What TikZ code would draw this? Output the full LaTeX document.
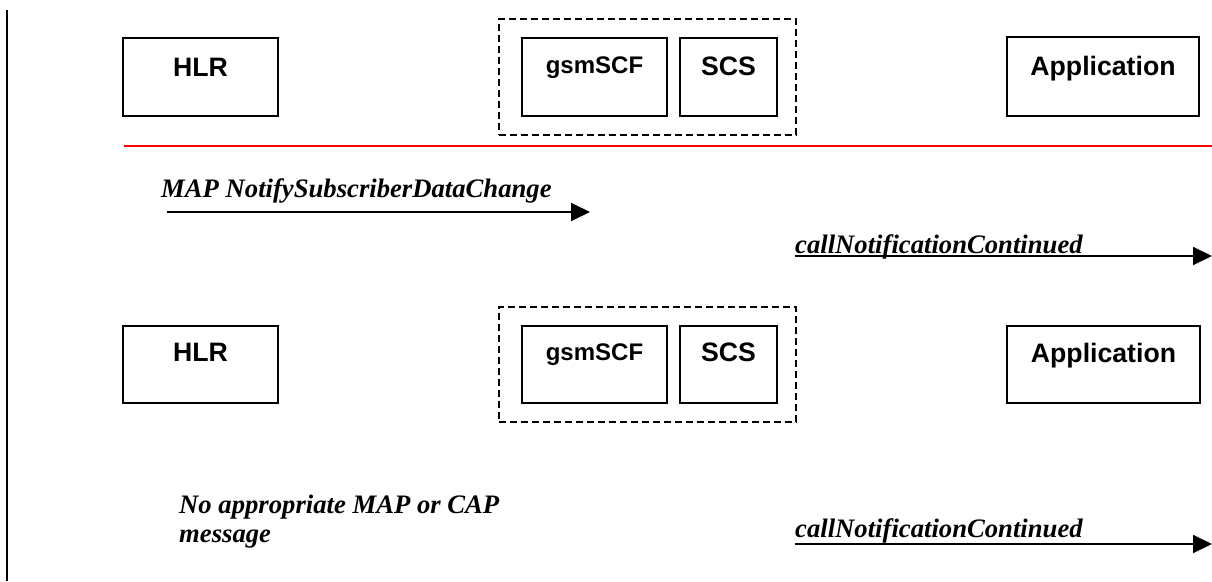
\documentclass[tikz,border=0pt]{standalone}
\usepackage{fontspec}
\setmainfont{Liberation Serif}
\newfontfamily\arialfont{Liberation Sans}
\usetikzlibrary{arrows.meta}
\begin{document}
\begin{tikzpicture}[x=1pt,y=-1pt,
  ent/.style={draw=black,line width=1.9pt,anchor=north west,inner sep=0pt,outer sep=0pt},
  entlabel/.style={anchor=base,inner sep=0pt,font=\arialfont\bfseries\fontsize{26.67}{30}\selectfont},
  smalllabel/.style={anchor=base,inner sep=0pt,font=\arialfont\bfseries\fontsize{24}{28}\selectfont},
  grp/.style={draw=black,line width=1.9pt,dash pattern=on 7pt off 4pt,anchor=north west,inner sep=0pt,outer sep=0pt},
  msg/.style={anchor=base west,inner sep=0pt,font=\bfseries\itshape\fontsize{26.67}{29}\selectfont},
  msgarrow/.style={line width=1.9pt,-{Triangle[length=19pt,width=18pt]}},
  sep/.style={draw=red,line width=2pt}
]
\useasboundingbox (0,0) rectangle (1212,581);

% left vertical bar
\coordinate (barTop) at (7,10);
\coordinate (barBot) at (7,581);
\draw[line width=2pt] (barTop) -- (barBot);

% ---------- Row 1 ----------
\node[grp, minimum width=297pt, minimum height=116pt] (grpA) at (499,19) {};
\node[ent, minimum width=155pt, minimum height=78pt] (hlrA) at (123,38) {};
\node[ent, minimum width=145pt, minimum height=78pt] (scfA) at (522,38) {};
\node[ent, minimum width=97pt, minimum height=78pt] (scsA) at (680,38) {};
\node[ent, minimum width=192pt, minimum height=79pt] (appA) at (1007,37) {};
\node[entlabel] (hlrAt) at ([yshift=-38pt]hlrA.north) {HLR};
\node[smalllabel] (scfAt) at ([yshift=-35pt]scfA.north) {gsmSCF};
\node[entlabel] (scsAt) at ([yshift=-37pt]scsA.north) {SCS};
\node[entlabel] (appAt) at ([yshift=-38pt]appA.north) {Application};

% red separator
\coordinate (sepL) at (124,146);
\coordinate (sepR) at (1212,146);
\draw[sep] (sepL) -- (sepR);

% message 1
\node[msg] (m1) at (161,197) {MAP NotifySubscriberDataChange};
\coordinate (m1s) at (167,212);
\coordinate (m1e) at (590,212);
\draw[msgarrow] (m1s) -- (m1e);

% message 2
\node[msg] (m2) at (795,253) {callNotificationContinued};
\coordinate (m2s) at (795,256);
\coordinate (m2e) at (1212,256);
\draw[msgarrow] (m2s) -- (m2e);

% ---------- Row 2 ----------
\node[grp, minimum width=297pt, minimum height=115pt] (grpB) at (499,307) {};
\node[ent, minimum width=155pt, minimum height=77pt] (hlrB) at (123,326) {};
\node[ent, minimum width=145pt, minimum height=77pt] (scfB) at (522,326) {};
\node[ent, minimum width=97pt, minimum height=77pt] (scsB) at (680,326) {};
\node[ent, minimum width=193pt, minimum height=77pt] (appB) at (1007,326) {};
\node[entlabel] (hlrBt) at ([yshift=-35pt]hlrB.north) {HLR};
\node[smalllabel] (scfBt) at ([yshift=-34pt]scfB.north) {gsmSCF};
\node[entlabel] (scsBt) at ([yshift=-35pt]scsB.north) {SCS};
\node[entlabel] (appBt) at ([yshift=-36pt]appB.north) {Application};

% message 3 (two lines; base anchor = last line)
\node[msg, align=left] (m3) at (179,542) {No appropriate MAP or CAP\\message};

% message 4
\node[msg] (m4) at (795,537) {callNotificationContinued};
\coordinate (m4s) at (795,544);
\coordinate (m4e) at (1212,544);
\draw[msgarrow] (m4s) -- (m4e);
\end{tikzpicture}
\end{document}
